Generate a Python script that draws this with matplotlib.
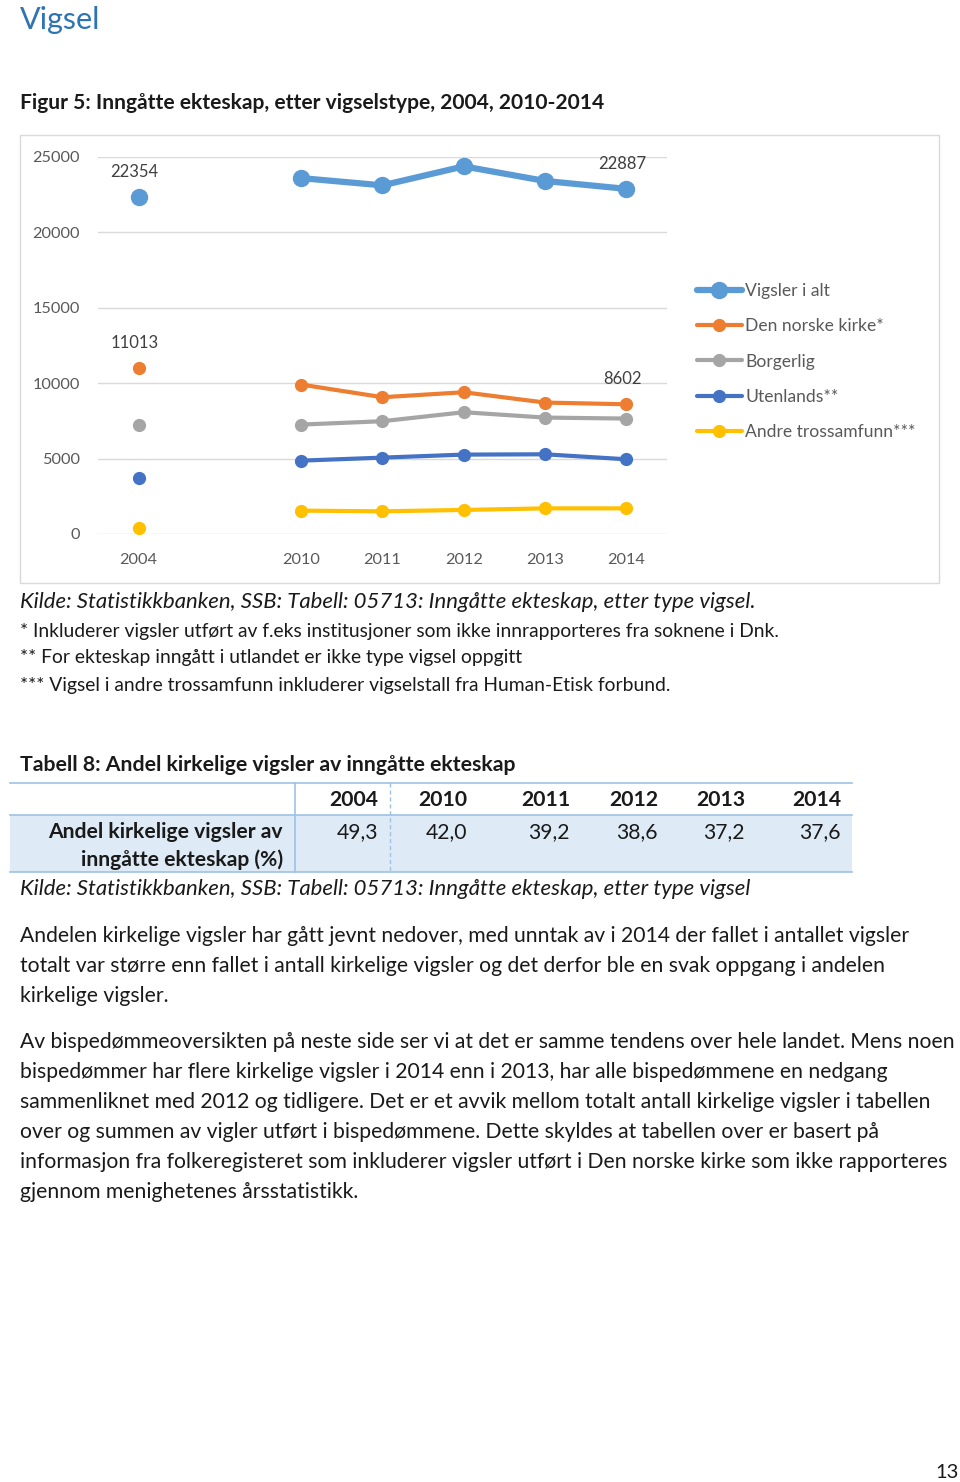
import numpy as np
import matplotlib
matplotlib.use("Agg")
import matplotlib.pyplot as plt
from matplotlib.patches import Rectangle

plt.rcParams['font.family'] = ['Lato', 'DejaVu Sans']

# Data
years = ['2004', '', '2010', '2011', '2012', '2013', '2014']
vigsler_i_alt = [22354, np.nan, 23600, 23120, 24380, 23410, 22887]
den_norske_kirke = [11013, np.nan, 9910, 9070, 9400, 8715, 8602]
borgerlig = [7255, np.nan, 7255, 7480, 8075, 7720, 7655]
utenlands = [3695, np.nan, 4865, 5065, 5265, 5285, 4955]
andre_trossamfunn = [375, np.nan, 1550, 1505, 1595, 1700, 1700]

serie_navn = ['Vigsler i alt', 'Den norske kirke*', 'Borgerlig', 'Utenlands**', 'Andre trossamfunn***']
serie_farger = ['#5B9BD5', '#ED7D31', '#A5A5A5', '#4472C4', '#FFC000']

# Tabell 8
tabell_aar = ['2004', '2010', '2011', '2012', '2013', '2014']
andel_kirkelige = ['49,3', '42,0', '39,2', '38,6', '37,2', '37,6']

avsnitt_1 = [
    "Andelen kirkelige vigsler har gått jevnt nedover, med unntak av i 2014 der fallet i antallet vigsler",
    "totalt var større enn fallet i antall kirkelige vigsler og det derfor ble en svak oppgang i andelen",
    "kirkelige vigsler.",
]
avsnitt_2 = [
    "Av bispedømmeoversikten på neste side ser vi at det er samme tendens over hele landet. Mens noen",
    "bispedømmer har flere kirkelige vigsler i 2014 enn i 2013, har alle bispedømmene en nedgang",
    "sammenliknet med 2012 og tidligere. Det er et avvik mellom totalt antall kirkelige vigsler i tabellen",
    "over og summen av vigler utført i bispedømmene. Dette skyldes at tabellen over er basert på",
    "informasjon fra folkeregisteret som inkluderer vigsler utført i Den norske kirke som ikke rapporteres",
    "gjennom menighetenes årsstatistikk.",
]
fotnoter = [
    "* Inkluderer vigsler utført av f.eks institusjoner som ikke innrapporteres fra soknene i Dnk.",
    "** For ekteskap inngått i utlandet er ikke type vigsel oppgitt",
    "*** Vigsel i andre trossamfunn inkluderer vigselstall fra Human-Etisk forbund.",
]

W, H = 960, 1482
fig = plt.figure(figsize=(W / 100, H / 100), dpi=100)
fig.patch.set_facecolor('white')

# side-akse i piksler for tekst og tabell
side = fig.add_axes([0, 0, 1, 1])
side.set_xlim(0, W)
side.set_ylim(H, 0)
side.axis('off')

tekst_farge = '#1a1a1a'
brod = 15.2
side.text(20, 20, "Vigsel", fontsize=22, color='#2E74B5', va='center')
side.text(20, 103, "Figur 5: Inngåtte ekteskap, etter vigselstype, 2004, 2010-2014",
          fontsize=15.1, fontweight='bold', color=tekst_farge, va='center')

# ramme rundt diagrammet
side.add_patch(Rectangle((20, 135), 919, 448, fill=False, edgecolor='#D9D9D9', lw=1))

# diagrammet
ax = fig.add_axes([98 / W, 1 - 534 / H, 569 / W, 377 / H])
ax.set_facecolor('none')
x = np.arange(len(years))
serier = [vigsler_i_alt, den_norske_kirke, borgerlig, utenlands, andre_trossamfunn]
for i, (verdier, navn, farge) in enumerate(zip(serier, serie_navn, serie_farger)):
    if i == 0:
        lw, ms = 4.5, 11.5
    else:
        lw, ms = 3, 8.5
    ax.plot(x, verdier, color=farge, lw=lw, marker='o', markersize=ms,
            label=navn, solid_capstyle='round', zorder=3)

for verdier in [vigsler_i_alt, den_norske_kirke]:
    for idx in [0, len(years) - 1]:
        ax.annotate(f"{verdier[idx]:.0f}", (x[idx], verdier[idx]), xytext=(-3, 18),
                    textcoords='offset points', ha='center', va='center',
                    fontsize=12, color='#404040')

ax.set_xlim(-0.5, len(years) - 0.5)
ax.set_ylim(0, 25000)
ax.set_yticks(np.arange(0, 25001, 5000))
ax.set_xticks(x)
ax.set_xticklabels(years)
ax.grid(axis='y', color='#D9D9D9', lw=1)
ax.set_axisbelow(True)
for s in ax.spines.values():
    s.set_visible(False)
ax.tick_params(length=0, labelsize=11.7, labelcolor='#595959')
ax.tick_params(axis='y', pad=13)
ax.tick_params(axis='x', pad=14)

ax.legend(loc='upper left', bbox_to_anchor=(697 / W, 1 - 283 / H), bbox_transform=fig.transFigure,
          frameon=False, fontsize=12.6, labelcolor='#595959', handlelength=2.55,
          handletextpad=0.2, labelspacing=1.1, borderpad=0, borderaxespad=0)

# kilde og fotnoter
side.text(20, 602, "Kilde: Statistikkbanken, SSB: Tabell: 05713: Inngåtte ekteskap, etter type vigsel.",
          fontsize=15.9, style='italic', color=tekst_farge, va='center')
for k, linje in enumerate(fotnoter):
    side.text(20, 631 + 27 * k, linje, fontsize=13.9, color=tekst_farge, va='center')

# Tabell 8
side.text(20, 765, "Tabell 8: Andel kirkelige vigsler av inngåtte ekteskap",
          fontsize=15.3, fontweight='bold', color=tekst_farge, va='center')
linje_farge = '#9CC2E5'
side.add_patch(Rectangle((10, 815), 842, 57, facecolor='#DEEAF6', edgecolor='none'))
for yy in [783, 815, 872]:
    side.plot([10, 852], [yy, yy], color=linje_farge, lw=1.2)
side.plot([295, 295], [783, 872], color=linje_farge, lw=1.2)
side.plot([390, 390], [783, 872], color=linje_farge, lw=1, ls=(0, (3, 2)))
kol_hoyre = [378, 467, 570, 658, 745, 841]
for xr, aar, verdi in zip(kol_hoyre, tabell_aar, andel_kirkelige):
    side.text(xr, 800, aar, fontsize=brod, fontweight='bold', ha='right', va='center', color=tekst_farge)
    side.text(xr, 832, verdi, fontsize=brod, ha='right', va='center', color=tekst_farge)
side.text(283, 832, "Andel kirkelige vigsler av", fontsize=brod, fontweight='bold',
          ha='right', va='center', color=tekst_farge)
side.text(283, 860, "inngåtte ekteskap (%)", fontsize=brod, fontweight='bold',
          ha='right', va='center', color=tekst_farge)
side.text(20, 889, "Kilde: Statistikkbanken, SSB: Tabell: 05713: Inngåtte ekteskap, etter type vigsel",
          fontsize=15.9, style='italic', color=tekst_farge, va='center')

# brødtekst
for k, linje in enumerate(avsnitt_1):
    side.text(20, 936 + 30 * k, linje, fontsize=brod, color=tekst_farge, va='center')
for k, linje in enumerate(avsnitt_2):
    side.text(20, 1042 + 30 * k, linje, fontsize=brod, color=tekst_farge, va='center')

side.text(959, 1473, "13", fontsize=14.5, color=tekst_farge, ha='right', va='center')

fig.savefig("out.png", dpi=100)
